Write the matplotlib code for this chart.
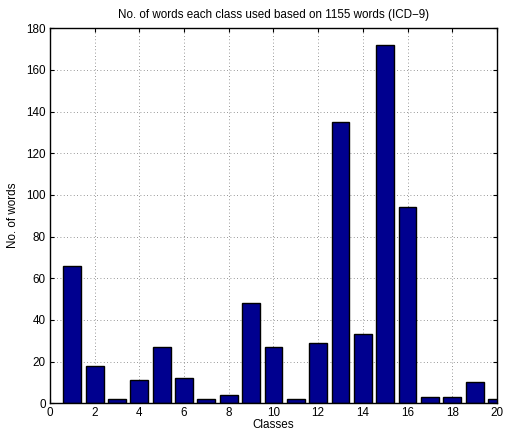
import matplotlib
matplotlib.use('Agg')
import matplotlib.pyplot as plt
import numpy as np

plt.rcParams['font.family'] = ['Liberation Sans', 'DejaVu Sans']

classes = np.arange(1, 21)
word_counts = [66, 18, 2, 11, 27, 12, 2, 4, 48, 27, 2, 29, 135, 33, 172, 94, 3, 3, 10, 2]

fig = plt.figure(figsize=(5.05, 4.34), dpi=100)
ax = fig.add_axes([0.099, 0.071, 0.885, 0.864])

ax.bar(classes, word_counts, width=0.8, color='#00008F', edgecolor='black', linewidth=1.0, zorder=3)

ax.set_xlim(0, 20)
ax.set_ylim(0, 180)
ax.set_xticks(np.arange(0, 21, 2))
ax.set_yticks(np.arange(0, 181, 20))
# sparse dotted grid behind the bars
ax.grid(True, linestyle=(0, (1, 3)), color='#777777', linewidth=0.6, zorder=0)
ax.tick_params(direction='in', top=True, right=True, labelsize=8.4, length=3, pad=3)
for s in ax.spines.values():
    s.set_linewidth(1.0)
    s.set_zorder(4)

ax.set_xlabel('Classes', fontsize=8.4, labelpad=0)
ax.set_ylabel('No. of words', fontsize=8.4, labelpad=5)
ax.set_title('No. of words each class used based on 1155 words (ICD\u22129)', fontsize=8.4, pad=7)

fig.savefig('out.png', dpi=100)
